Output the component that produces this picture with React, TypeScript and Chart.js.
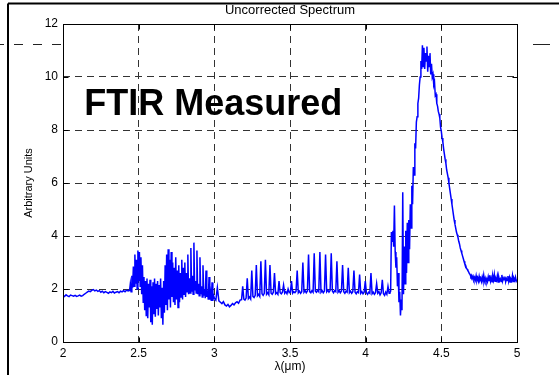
import React, { useEffect, useRef } from "react";
import { Chart, registerables } from "chart.js";

Chart.register(...registerables);

const titleText = "Uncorrected Spectrum";
const xAxisLabel = "λ(μm)";
const yAxisLabel = "Arbitrary Units";
const annotationText = "FTIR Measured";
const annotationAt = { x: 2.14, y: 8.55 };

const xTickValues = [2, 2.5, 3, 3.5, 4, 4.5, 5];
const yTickValues = [0, 2, 4, 6, 8, 10, 12];

// Spectrum, in wavelength segments (start, sampling step, values)
const segAStart = 2.0;
const segAStep = 0.01;
const segAValues = [
  1.76, 1.72, 1.78, 1.74, 1.71, 1.77, 1.75, 1.73, 1.76, 1.72, 1.74, 1.77, 1.73, 1.75,
  1.8, 1.84, 1.88, 1.92, 1.9, 1.95, 1.98, 1.93, 1.96,
  1.91, 1.94, 1.88, 1.92, 1.86, 1.9, 1.87, 1.84, 1.89, 1.86, 1.91, 1.85, 1.88, 1.9, 1.86,
  1.92, 1.89, 1.94, 1.9, 1.96, 1.93,
];

const segBStart = 2.44;
const segBStep = 0.005;
const segBValues = [
  1.95, 2.2, 1.9, 2.5, 2.05, 2.85, 2.1, 3.3, 2.2, 3.1,
  2.0, 3.45, 2.3, 3.4, 2.1, 3.2, 1.8, 2.9, 1.5, 2.45,
  1.2, 2.3, 1.0, 2.4, 0.9, 2.2, 1.3, 2.35, 0.75, 2.1,
  0.65, 2.25, 1.05, 2.4, 0.95, 2.2, 1.25, 2.3, 1.0, 2.15,
  1.3, 2.4, 0.9, 2.05, 0.65, 2.3, 1.1, 2.9, 1.4, 3.3,
  1.2, 3.5, 1.6, 3.1, 1.3, 3.4, 1.7, 3.0, 1.5, 2.8,
  1.4, 3.2, 1.6, 2.7, 1.3, 2.9, 1.5, 2.6, 1.7, 3.1,
  1.6, 2.8, 1.8, 3.0, 1.7, 2.6, 1.9, 3.3, 1.8, 2.4,
  1.85, 3.55, 1.9, 2.5, 1.8, 3.75, 1.95, 2.3, 1.85, 3.45,
  1.8, 2.2, 1.75, 3.2, 1.8, 2.1, 1.7, 2.9, 1.75, 2.0,
  1.65, 2.7, 1.7, 1.95, 1.6, 2.45, 1.6, 1.85, 1.55, 2.25,
  1.55, 1.75,
];

const segCStart = 3.0;
const segCStep = 0.01;
const segCValues = [
  1.65, 1.58, 2.05, 1.55, 1.5, 1.45, 1.52, 1.4, 1.36, 1.42, 1.33, 1.38, 1.45, 1.4, 1.48,
  1.52, 1.46, 1.58,
];

const segDStart = 3.18;
const segDStep = 0.0075;
const segDValues = [
  1.6, 2.1, 1.62, 1.58, 1.66, 2.4, 1.64, 1.7, 1.62, 2.7,
  1.72, 1.68, 1.76, 2.9, 1.74, 1.8, 1.72, 3.05, 1.82, 1.76,
  1.84, 3.1, 1.8, 1.86, 1.78, 2.9, 1.84, 1.8, 1.88, 2.6,
  1.82, 1.86, 1.8, 2.3, 1.86, 1.82, 1.88, 2.15, 1.84, 1.9,
  1.82, 2.0, 1.86, 1.88, 2.3, 1.84, 1.9, 1.86, 1.92, 2.7,
  1.86, 1.92, 1.84, 1.9, 3.0, 1.88, 1.94, 1.86, 1.92, 3.3,
  1.9, 1.86, 1.94, 1.88, 3.35, 1.92, 1.88, 1.96, 1.9, 3.4,
  1.88, 1.94, 1.86, 1.92, 3.3, 1.9, 1.96, 1.88, 1.94, 3.35,
  1.92, 1.86, 1.94, 1.9, 3.05, 1.88, 1.94, 1.86, 1.92, 2.9,
  1.9, 1.84, 1.92, 1.88, 2.8, 1.86, 1.92, 1.84, 1.9, 2.7,
  1.88, 1.82, 1.9, 1.86, 2.55, 1.84, 1.9, 1.82, 1.88, 2.3,
  1.86, 1.8, 1.88, 1.84, 2.6, 1.82, 1.88, 1.8, 1.86, 2.2,
  1.84, 1.9, 1.78, 1.86, 2.35, 1.82, 1.76, 1.88, 1.8, 2.1,
  1.84,
];

const segEStart = 4.16;
const segEStep = 0.005;
const segEValues = [
  1.85, 1.92, 4.15, 3.8, 4.2, 3.6, 5.15, 3.4, 2.8, 3.2,
  2.1, 2.6, 1.5, 1.9, 1.0, 1.6, 1.2, 5.65, 1.8, 3.6,
  2.2, 4.2, 2.6, 4.5, 3.0, 4.6, 3.5, 5.2, 4.3, 5.9,
  5.2, 6.6, 6.3, 7.5, 7.3, 8.3, 8.5, 9.0, 9.2, 9.7,
  10.0, 10.6, 10.3, 11.2, 10.4, 11.1, 10.3, 10.9, 10.6, 11.15,
  10.2, 10.8, 10.4, 10.9, 10.1, 10.5, 10.0, 10.1, 9.7, 9.8,
  9.3, 9.35, 9.0, 8.9, 8.7, 8.6, 8.45, 8.1, 7.95, 7.7,
  7.55, 7.3, 7.1, 6.9, 6.75, 6.5, 6.35, 6.2, 6.0, 5.8,
  5.6, 5.4, 5.2, 5.0, 4.8, 4.6, 4.45, 4.3, 4.15, 4.05,
  3.95, 3.8, 3.7, 3.55, 3.45, 3.35, 3.25, 3.15, 3.05, 2.95,
  2.9, 2.8, 2.75, 2.7, 2.65, 2.58, 2.55, 2.47, 2.52, 2.4,
  2.48, 2.36, 2.44, 2.34, 2.5, 2.32, 2.42, 2.3, 2.48, 2.33,
  2.4, 2.28, 2.45, 2.31, 2.52, 2.3, 2.41, 2.29,
];

const segFStart = 4.8;
const segFStep = 0.005;
const segFValues = [
  2.38, 2.28, 2.46, 2.32, 2.52, 2.3, 2.42, 2.27, 2.48, 2.34,
  2.55, 2.29, 2.4, 2.33, 2.5, 2.26, 2.44, 2.31, 2.38, 2.28,
  2.53, 2.3, 2.41, 2.35, 2.47, 2.27, 2.39, 2.32, 2.49, 2.29,
  2.43, 2.26, 2.37, 2.31, 2.51, 2.28, 2.4, 2.33, 2.45, 2.3,
  2.36,
];

function segment(start: number, step: number, values: number[]) {
  return values.map((y, i) => ({ x: +(start + i * step).toFixed(4), y }));
}

const spectrum = [
  ...segment(segAStart, segAStep, segAValues),
  ...segment(segBStart, segBStep, segBValues),
  ...segment(segCStart, segCStep, segCValues),
  ...segment(segDStart, segDStep, segDValues),
  ...segment(segEStart, segEStep, segEValues),
  ...segment(segFStart, segFStep, segFValues),
];

const FONT = "'Liberation Sans', Arial, Helvetica, sans-serif";

const decorPlugin = {
  id: "decor",
  afterDatasetsDraw(chart: any) {
    const { ctx, chartArea, scales } = chart;
    const { left, top, right, bottom } = chartArea;
    const xs = scales.x;
    const ys = scales.y;
    const L = Math.round(left) + 0.5;
    const T = Math.round(top) + 0.5;
    const R = Math.round(right) + 0.5;
    const B = Math.round(bottom) + 0.5;
    ctx.save();
    ctx.setLineDash([]);
    ctx.strokeStyle = "#000";
    ctx.lineWidth = 1;
    ctx.strokeRect(L, T, R - L, B - T);
    const line = (x1: number, y1: number, x2: number, y2: number) => {
      ctx.beginPath();
      ctx.moveTo(x1, y1);
      ctx.lineTo(x2, y2);
      ctx.stroke();
    };
    xTickValues.forEach((v) => {
      const px = Math.round(xs.getPixelForValue(v)) + 0.5;
      line(px, B, px, B - 5);
      line(px, T, px, T + 5);
    });
    yTickValues.forEach((v) => {
      const py = Math.round(ys.getPixelForValue(v)) + 0.5;
      line(L, py, L + 5, py);
      line(R, py, R - 5, py);
    });
    ctx.font = `bold 36px ${FONT}`;
    ctx.fillStyle = "#000";
    ctx.textAlign = "left";
    ctx.textBaseline = "alphabetic";
    ctx.fillText(
      annotationText,
      xs.getPixelForValue(annotationAt.x),
      ys.getPixelForValue(annotationAt.y)
    );
    ctx.restore();
  },
  afterDraw(chart: any) {
    const { ctx, width, height } = chart;
    ctx.save();
    ctx.strokeStyle = "#000";
    ctx.lineWidth = 2;
    ctx.setLineDash([]);
    ctx.beginPath();
    ctx.moveTo(8, 3.5);
    ctx.lineTo(width, 3.5);
    ctx.moveTo(8, 3.5);
    ctx.lineTo(8, height);
    ctx.stroke();
    // stray dashed line outside the axes
    ctx.lineWidth = 1;
    ctx.strokeStyle = "#222";
    ctx.setLineDash([9, 10]);
    ctx.beginPath();
    ctx.moveTo(-5, 44.5);
    ctx.lineTo(61, 44.5);
    ctx.stroke();
    ctx.setLineDash([]);
    ctx.beginPath();
    ctx.moveTo(533, 44.5);
    ctx.lineTo(550, 44.5);
    ctx.stroke();
    ctx.restore();
  },
};

export default function App() {
  const canvasRef = useRef<HTMLCanvasElement | null>(null);

  useEffect(() => {
    if (!canvasRef.current) return;
    const chart = new Chart(canvasRef.current, {
      type: "line",
      data: {
        datasets: [
          {
            data: spectrum,
            borderColor: "#0000ff",
            borderWidth: 1.5,
            pointRadius: 0,
            tension: 0,
            fill: false,
          },
        ],
      },
      options: {
        animation: false,
        responsive: false,
        devicePixelRatio: 1,
        layout: { padding: { left: 0, right: 42, top: 0, bottom: 0 } },
        plugins: {
          legend: { display: false },
          tooltip: { enabled: false },
          title: {
            display: true,
            text: titleText,
            fullSize: false,
            color: "#000",
            font: { family: FONT, size: 13, weight: "normal" },
            padding: { top: 2.2, bottom: 6.2 },
          },
        },
        scales: {
          x: {
            type: "linear",
            min: 2,
            max: 5,
            afterBuildTicks: (scale: any) => {
              scale.ticks = xTickValues.map((v) => ({ value: v }));
            },
            afterFit: (scale: any) => {
              scale.height = 33;
            },
            ticks: {
              autoSkip: false,
              maxRotation: 0,
              padding: 4,
              color: "#000",
              font: { family: FONT, size: 12 },
              callback: (v: any) => String(v),
            },
            grid: { color: "#333", lineWidth: 1, drawTicks: false },
            border: { display: false, dash: [7, 5] },
            title: {
              display: true,
              text: xAxisLabel,
              color: "#000",
              font: { family: FONT, size: 12 },
              padding: { top: 0, bottom: 1.5 },
            },
          },
          y: {
            type: "linear",
            min: 0,
            max: 12,
            afterBuildTicks: (scale: any) => {
              scale.ticks = yTickValues.map((v) => ({ value: v }));
            },
            afterFit: (scale: any) => {
              scale.width = 63;
            },
            ticks: {
              autoSkip: false,
              padding: 5,
              color: "#000",
              font: { family: FONT, size: 12 },
              callback: (v: any) => String(v),
            },
            grid: { color: "#333", lineWidth: 1, drawTicks: false },
            border: { display: false, dash: [7, 5] },
            title: {
              display: true,
              text: yAxisLabel,
              color: "#000",
              font: { family: FONT, size: 11 },
              padding: { top: 22, bottom: 0 },
            },
          },
        },
      } as any,
      plugins: [decorPlugin],
    });
    return () => chart.destroy();
  }, []);

  return (
    <div style={{ position: "absolute", left: 0, top: 0, width: 559, height: 375, background: "#fff" }}>
      <canvas ref={canvasRef} width={559} height={375} style={{ display: "block" }} />
    </div>
  );
}
